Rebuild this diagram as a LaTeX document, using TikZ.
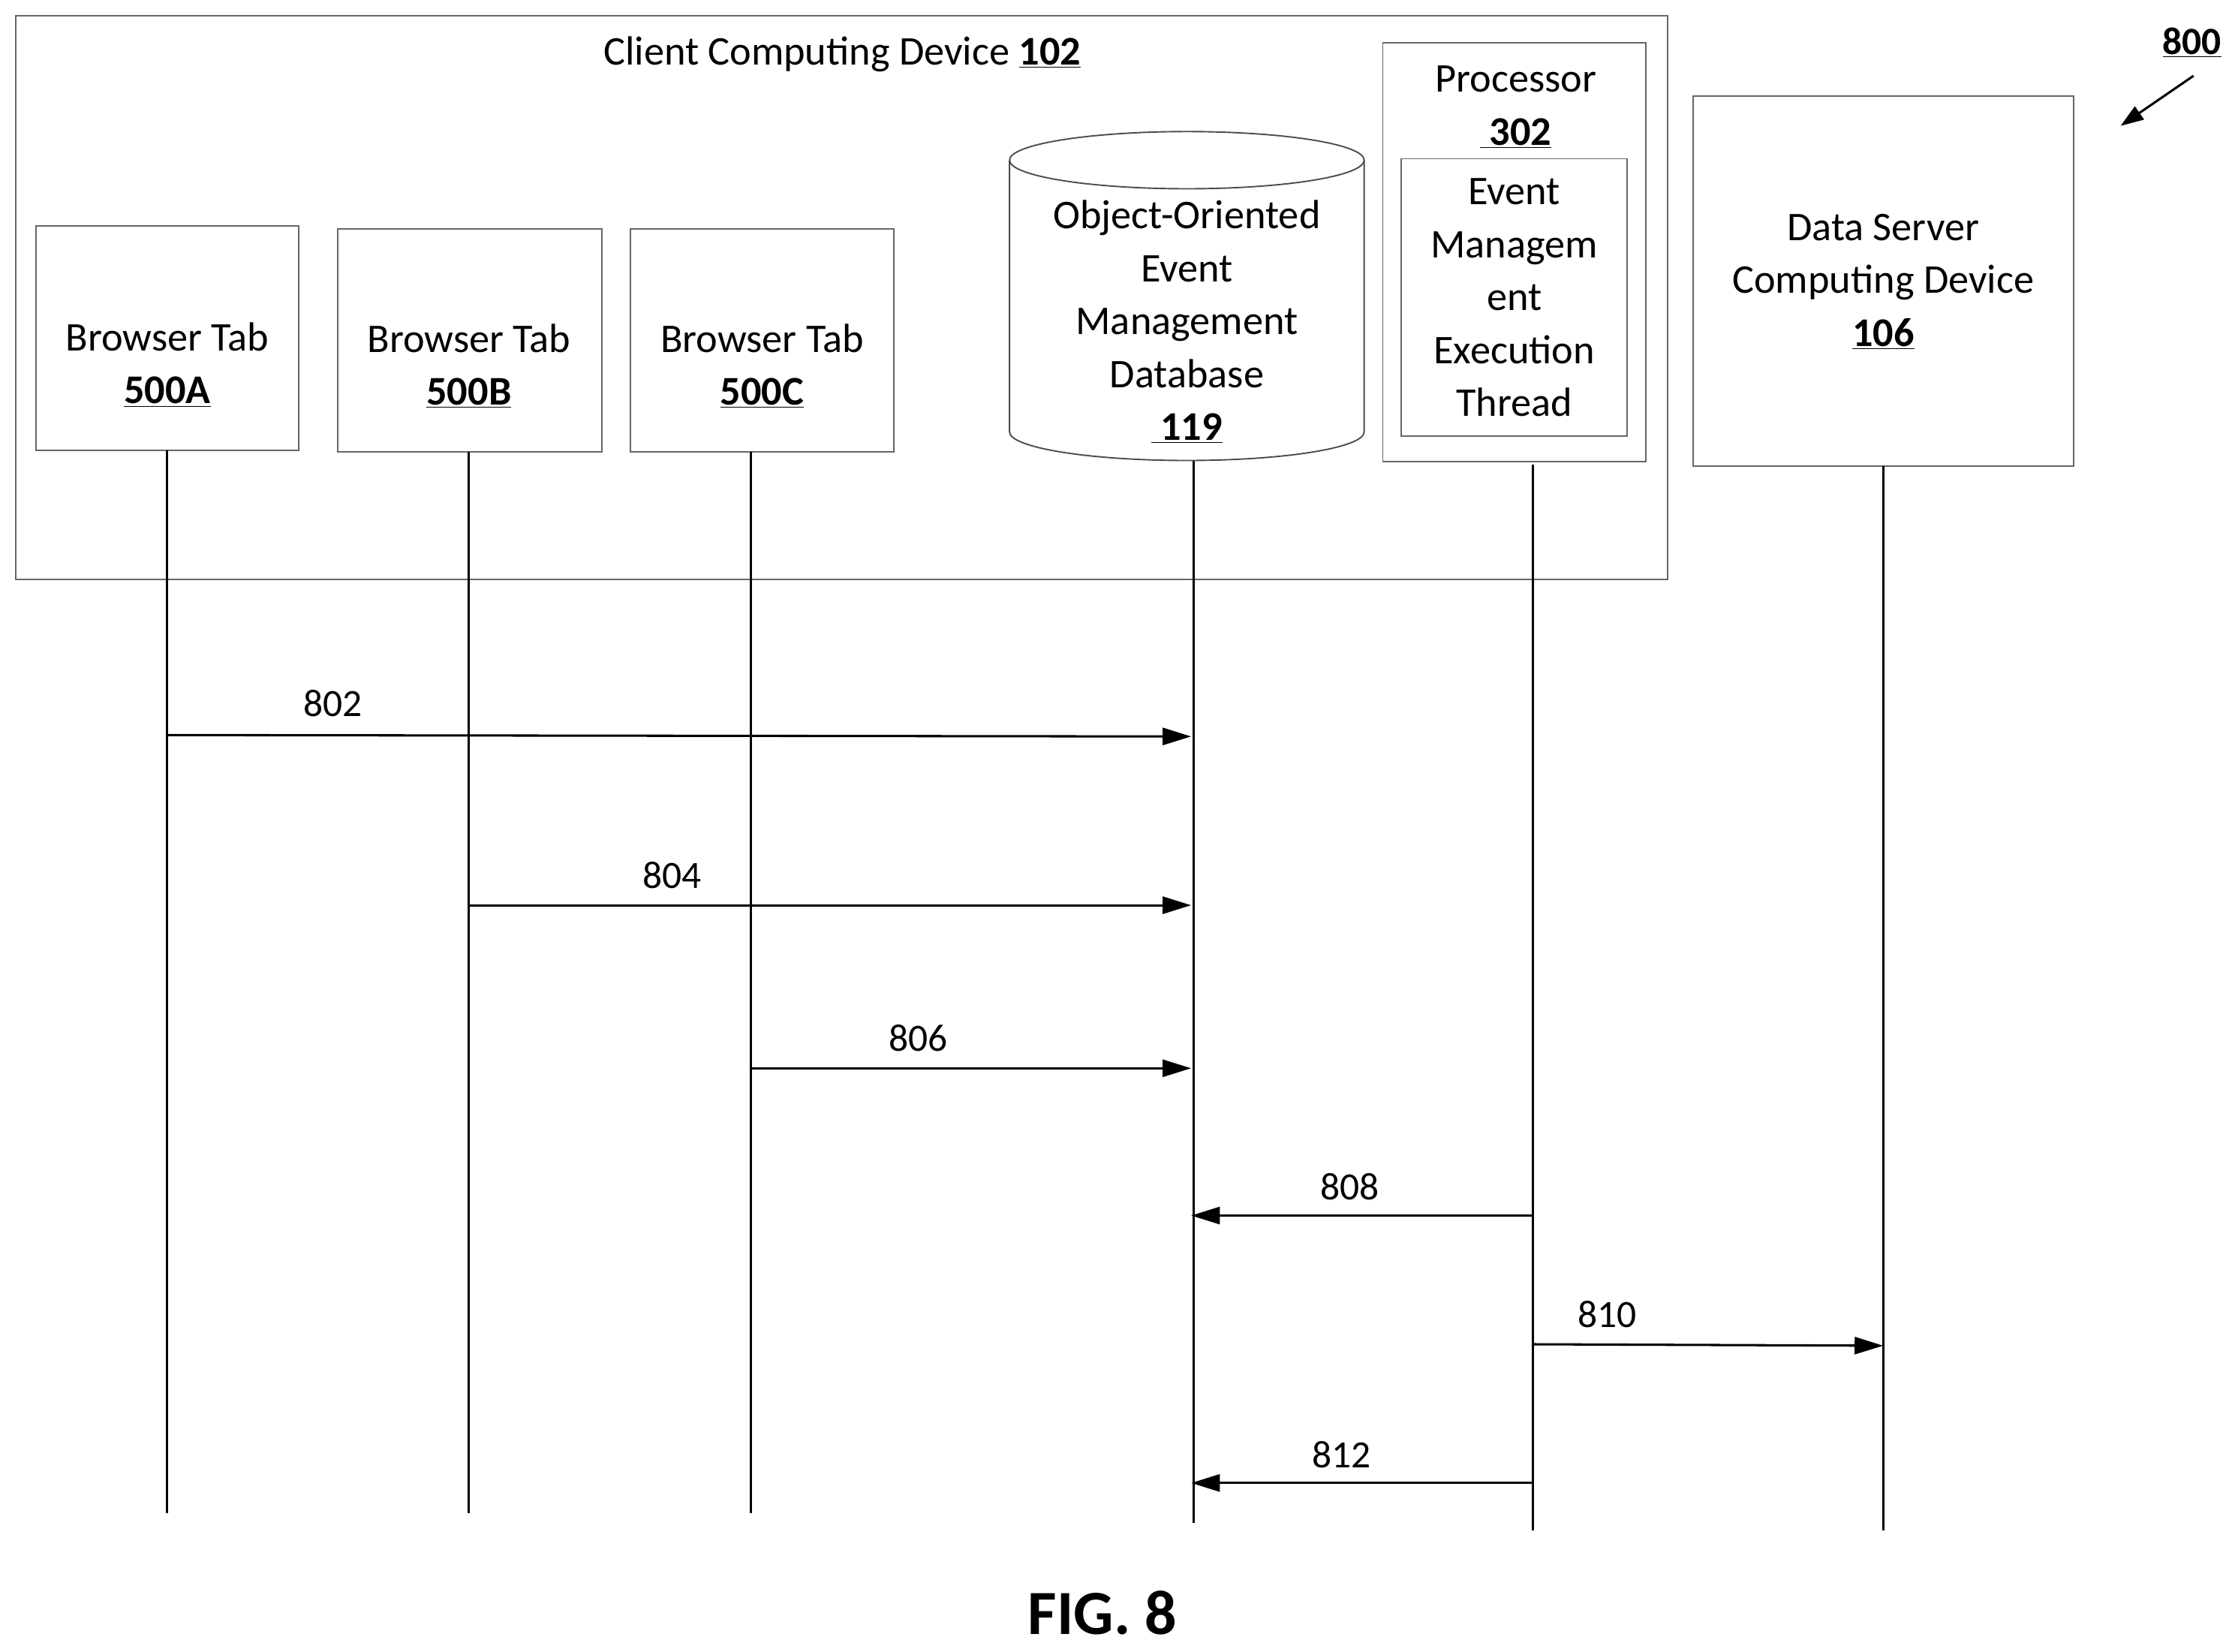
\documentclass[tikz,border=0pt]{standalone}
\usepackage{fontspec}
\setmainfont{Carlito}
\usetikzlibrary{arrows.meta}
\begin{document}
\begin{tikzpicture}[x=1pt,y=-1pt,
  txt/.style={font=\fontsize{28.5}{37}\selectfont,align=center,inner sep=0},
  box/.style={draw=black!60,line width=1pt},
  life/.style={line width=1.6pt},
  msg/.style={line width=1.6pt,-{Triangle[length=20pt,width=12pt]}},
  lbl/.style={font=\fontsize{27}{30}\selectfont,inner sep=0}]
\useasboundingbox (0,0) rectangle (1563,1155);
\draw[box] (11,11) rectangle (1166,405);
\node[txt] (title) at (589,38) {Client Computing Device \underline{\textbf{102}}};
\draw[box] (25,158) rectangle (209,315);
\node[txt] (ta) at (117,255) {Browser Tab\\\underline{\textbf{500A}}};
\draw[box] (236,160) rectangle (421,316);
\node[txt] (tb) at (328,256) {Browser Tab\\\underline{\textbf{500B}}};
\draw[box] (441,160) rectangle (625,316);
\node[txt] (tc) at (533,256) {Browser Tab\\\underline{\textbf{500C}}};
\draw[draw=black!70,line width=1pt] (830,112) ellipse [x radius=124, y radius=20];
\draw[draw=black!70,line width=1pt] (706,112) -- (706,302) arc[start angle=180,end angle=360,x radius=124,y radius=-20] -- (954,112);
\node[txt] (dbt) at (830,225) {Object-Oriented\\Event\\Management\\Database\\\underline{\textbf{\ 119}}};
\draw[box] (967,30) rectangle (1151,323);
\node[txt] (pt) at (1060,75) {Processor\\\underline{\textbf{\ 302}}};
\draw[box] (980,111) rectangle (1138,305);
\node[txt] (et) at (1059,208) {Event\\Managem\\ent\\Execution\\Thread};
\draw[box] (1184,67) rectangle (1450,326);
\node[txt] (ds) at (1317,197) {Data Server\\Computing Device\\\underline{\textbf{106}}};
\node[txt,font=\fontsize{27}{30}\selectfont\bfseries] (n800) at (1533,30) {\underline{800}};
\draw[line width=1.6pt,-{Triangle[length=16pt,width=11pt]}] (1534,53) -- (1483,88);
\coordinate (a0) at (117,315); \coordinate (a1) at (117,1058);
\coordinate (b0) at (328,316); \coordinate (b1) at (328,1058);
\coordinate (c0) at (525,316); \coordinate (c1) at (525,1058);
\coordinate (d0) at (835,322); \coordinate (d1) at (835,1065);
\coordinate (e0) at (1072,325); \coordinate (e1) at (1072,1070);
\coordinate (f0) at (1317,326); \coordinate (f1) at (1317,1070);
\foreach \p in {a,b,c,d,e,f} \draw[life] (\p0) -- (\p1);
\coordinate (m1s) at (117,514); \coordinate (m1e) at (833,515);
\coordinate (m2s) at (328,633); \coordinate (m2e) at (833,633);
\coordinate (m3s) at (525,747); \coordinate (m3e) at (833,747);
\coordinate (m4s) at (1072,850); \coordinate (m4e) at (833,850);
\coordinate (m5s) at (1072,940); \coordinate (m5e) at (1317,941);
\coordinate (m6s) at (1072,1037); \coordinate (m6e) at (833,1037);
\foreach \m in {1,...,6} \draw[msg] (m\m s) -- (m\m e);
\node[lbl] at (233,492) {802};
\node[lbl] at (470,612) {804};
\node[lbl] at (642,726) {806};
\node[lbl] at (944,830) {808};
\node[lbl] at (1124,919) {810};
\node[lbl] at (938,1017) {812};
\node[inner sep=0,font=\fontsize{44}{48}\selectfont\bfseries] (fig) at (771,1128) {FIG. 8};
\end{tikzpicture}
\end{document}
